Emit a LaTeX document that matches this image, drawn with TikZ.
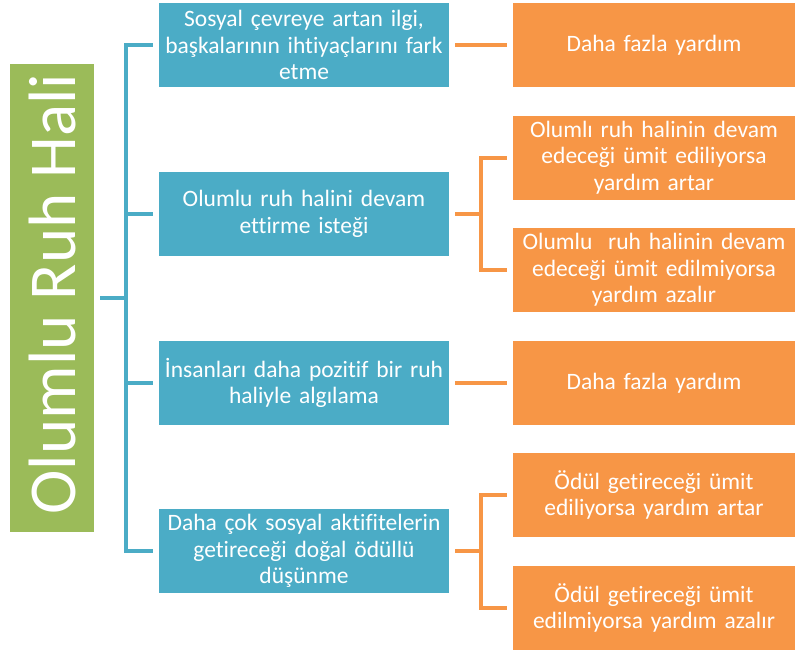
\documentclass[tikz,border=0pt]{standalone}
\usepackage{fontspec}
\setmainfont{Carlito}[RawFeature={-liga;-clig;-dlig}]
\definecolor{cblue}{HTML}{4BACC6}
\definecolor{corange}{HTML}{F79646}
\definecolor{cgreen}{HTML}{9BBB59}
\begin{document}
\begin{tikzpicture}[x=1pt,y=-1pt,
  bluebox/.style={fill=cblue,text=white,inner sep=0pt,minimum width=290pt,minimum height=84pt,text width=288pt,align=center,font=\fontsize{23.5}{26.5}\selectfont},
  orbox/.style={fill=corange,text=white,inner sep=0pt,minimum width=282pt,minimum height=84pt,text width=280pt,align=center,font=\fontsize{23.5}{26.5}\selectfont},
  tline/.style={draw=cblue,line width=4pt},
  oline/.style={draw=corange,line width=4pt}]
\useasboundingbox (0,0) rectangle (795,653);
\fill[white] (0,0) rectangle (795,653);
\node[fill=cgreen,inner sep=0pt,minimum width=84pt,minimum height=468pt] (g) at (52,298) {};
\node[rotate=90,text=white,font=\fontsize{67}{70}\selectfont,inner sep=0pt] (gt) at ([yshift=4pt]g.center) {Olumlu Ruh Hali};
\node[bluebox] (b1) at (304,45) {Sosyal çevreye artan ilgi,\\ başkalarının ihtiyaçlarını fark\\ etme};
\node[bluebox] (b2) at (304,214) {Olumlu ruh halini devam\\ ettirme isteği};
\node[bluebox] (b3) at (304,383) {İnsanları daha pozitif bir ruh\\ haliyle algılama};
\node[bluebox] (b4) at (304,551) {Daha çok sosyal aktifitelerin\\ getireceği doğal ödüllü\\ düşünme};
\node[orbox] (o1) at (654,45) {Daha fazla yardım};
\node[orbox] (o2) at (654,157.5) {Olumlı ruh halinin devam\\ edeceği ümit ediliyorsa\\ yardım artar};
\node[orbox] (o3) at (654,270) {Olumlu\ \ ruh halinin devam\\ edeceği ümit edilmiyorsa\\ yardım azalır};
\node[orbox] (o4) at (654,383) {Daha fazla yardım};
\node[orbox] (o5) at (654,495) {Ödül getireceği ümit\\ ediliyorsa yardım artar};
\node[orbox] (o6) at (654,608) {Ödül getireceği ümit\\ edilmiyorsa yardım azalır};
\coordinate (tr) at (126,0);
\coordinate (ot) at (481,0);
\draw[tline] ([xshift=-6pt]b1.west) -- (b1.west -| tr) -- (b4.west -| tr) -- ([xshift=-6pt]b4.west);
\draw[tline] (b2.west -| tr) -- ([xshift=-6pt]b2.west);
\draw[tline] (b3.west -| tr) -- ([xshift=-6pt]b3.west);
\draw[tline] ([xshift=6pt]g.east) -- (g.east -| tr);
\draw[oline] ([xshift=6pt]b1.east) -- ([xshift=-6pt]o1.west);
\draw[oline] ([xshift=6pt]b3.east) -- ([xshift=-6pt]o4.west);
\draw[oline] ([xshift=6pt]b2.east) -- (b2.east -| ot);
\draw[oline] ([xshift=-6pt]o2.west) -- (o2.west -| ot) -- (o3.west -| ot) -- ([xshift=-6pt]o3.west);
\draw[oline] ([xshift=6pt]b4.east) -- (b4.east -| ot);
\draw[oline] ([xshift=-6pt]o5.west) -- (o5.west -| ot) -- (o6.west -| ot) -- ([xshift=-6pt]o6.west);
\end{tikzpicture}
\end{document}
